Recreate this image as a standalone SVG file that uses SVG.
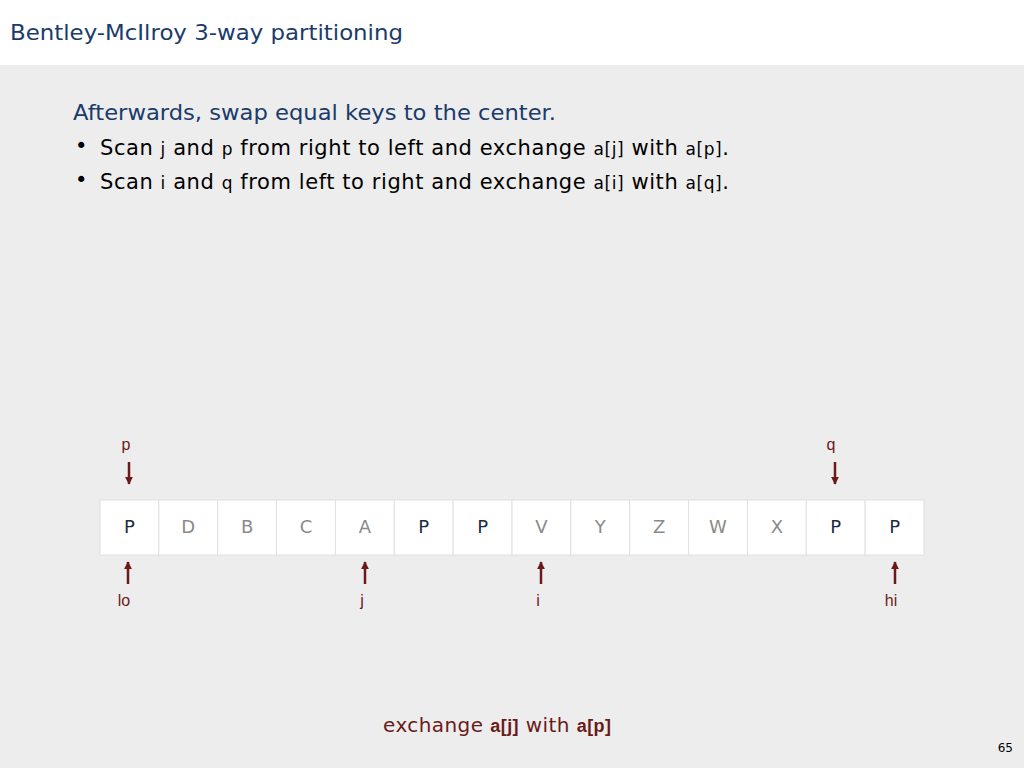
<svg xmlns="http://www.w3.org/2000/svg" width="1024" height="768" viewBox="0 0 1024 768">
<style>
.title{font-family:"DejaVu Sans","Noto Sans",sans-serif;font-size:21px;fill:#1b3b6b}
.body{font-family:"DejaVu Sans","Noto Sans",sans-serif;font-size:21px;fill:#000}
.code{font-family:"DejaVu Sans","Liberation Sans",sans-serif;font-size:17px}
.cell{fill:#fff;stroke:#e0e0e0;stroke-width:1}
.key{font-family:"DejaVu Sans","Liberation Sans",sans-serif;font-size:18px;text-anchor:middle}
.eq{fill:#1a2b44}
.ne{fill:#8a8a8a}
.lbl{font-family:"Liberation Sans",Arial,sans-serif;font-size:16px;fill:#6b1a1a;text-anchor:middle}
.arr{stroke:#6b1a1a;stroke-width:2.5;fill:none}
</style>
<defs>
<marker id="ah" viewBox="0 0 10 10" refX="9" refY="5" markerWidth="3.2" markerHeight="3.2" orient="auto">
<path d="M0,0 L10,5 L0,10 z" fill="#6b1a1a"/>
</marker>
</defs>
<rect x="0" y="0" width="1024" height="768" fill="#ededed"/>
<rect x="0" y="0" width="1024" height="65" fill="#ffffff"/>
<text class="title" x="10" y="40" textLength="393" lengthAdjust="spacingAndGlyphs">Bentley-McIlroy 3-way partitioning</text>
<text class="body" x="73" y="120" style="fill:#1b3b6b" textLength="483" lengthAdjust="spacingAndGlyphs">Afterwards, swap equal keys to the center.</text>
<text class="body" x="75" y="153" font-size="18">•</text>
<text class="body" x="100" y="155" textLength="629" lengthAdjust="spacing">Scan <tspan class="code">j</tspan> and <tspan class="code">p</tspan> from right to left and exchange <tspan class="code">a[j]</tspan> with <tspan class="code">a[p]</tspan>.</text>
<text class="body" x="75" y="187" font-size="18">•</text>
<text class="body" x="100" y="189" textLength="629" lengthAdjust="spacing">Scan <tspan class="code">i</tspan> and <tspan class="code">q</tspan> from left to right and exchange <tspan class="code">a[i]</tspan> with <tspan class="code">a[q]</tspan>.</text>
<g id="array">
<g id="c0"><rect class="cell" x="100" y="500" width="58.86" height="55"/><text class="key eq" x="129.4" y="533">P</text></g>
<g id="c1"><rect class="cell" x="158.86" y="500" width="58.86" height="55"/><text class="key ne" x="188.3" y="533">D</text></g>
<g id="c2"><rect class="cell" x="217.71" y="500" width="58.86" height="55"/><text class="key ne" x="247.1" y="533">B</text></g>
<g id="c3"><rect class="cell" x="276.57" y="500" width="58.86" height="55"/><text class="key ne" x="306" y="533">C</text></g>
<g id="c4"><rect class="cell" x="335.43" y="500" width="58.86" height="55"/><text class="key ne" x="364.9" y="533">A</text></g>
<g id="c5"><rect class="cell" x="394.29" y="500" width="58.86" height="55"/><text class="key eq" x="423.7" y="533">P</text></g>
<g id="c6"><rect class="cell" x="453.14" y="500" width="58.86" height="55"/><text class="key eq" x="482.6" y="533">P</text></g>
<g id="c7"><rect class="cell" x="512" y="500" width="58.86" height="55"/><text class="key ne" x="541.4" y="533">V</text></g>
<g id="c8"><rect class="cell" x="570.86" y="500" width="58.86" height="55"/><text class="key ne" x="600.3" y="533">Y</text></g>
<g id="c9"><rect class="cell" x="629.71" y="500" width="58.86" height="55"/><text class="key ne" x="659.1" y="533">Z</text></g>
<g id="c10"><rect class="cell" x="688.57" y="500" width="58.86" height="55"/><text class="key ne" x="718" y="533">W</text></g>
<g id="c11"><rect class="cell" x="747.43" y="500" width="58.86" height="55"/><text class="key ne" x="776.9" y="533">X</text></g>
<g id="c12"><rect class="cell" x="806.29" y="500" width="58.86" height="55"/><text class="key eq" x="835.7" y="533">P</text></g>
<g id="c13"><rect class="cell" x="865.14" y="500" width="58.86" height="55"/><text class="key eq" x="894.6" y="533">P</text></g>
</g>
<g id="pointers">
<line class="arr" x1="129" y1="462" x2="129" y2="484" marker-end="url(#ah)"/>
<line class="arr" x1="835" y1="462" x2="835" y2="484" marker-end="url(#ah)"/>
<line class="arr" x1="128" y1="584" x2="128" y2="562" marker-end="url(#ah)"/>
<line class="arr" x1="365" y1="584" x2="365" y2="562" marker-end="url(#ah)"/>
<line class="arr" x1="541" y1="584" x2="541" y2="562" marker-end="url(#ah)"/>
<line class="arr" x1="895" y1="584" x2="895" y2="562" marker-end="url(#ah)"/>
</g>
<g id="labels">
<text class="lbl" x="126" y="450">p</text>
<text class="lbl" x="831" y="450">q</text>
<text class="lbl" x="124" y="606">lo</text>
<text class="lbl" x="362" y="606">j</text>
<text class="lbl" x="538" y="606">i</text>
<text class="lbl" x="891" y="606">hi</text>
</g>
<text x="497" y="732" text-anchor="middle" font-family="DejaVu Sans, sans-serif" font-size="20" fill="#6b1a1a" textLength="228" lengthAdjust="spacing">exchange <tspan font-family="Liberation Sans, sans-serif" font-weight="bold" font-size="18">a[j]</tspan> with <tspan font-family="Liberation Sans, sans-serif" font-weight="bold" font-size="18">a[p]</tspan></text>
<text x="1013" y="752" text-anchor="end" font-family="DejaVu Sans, sans-serif" font-size="12" fill="#000">65</text>
</svg>
